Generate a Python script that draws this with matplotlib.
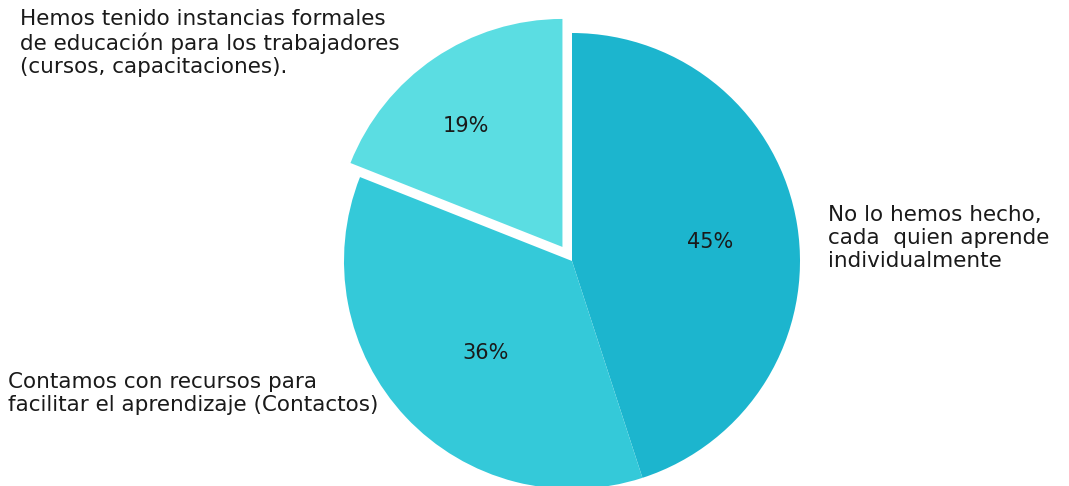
import numpy as np
import matplotlib.pyplot as plt

etiquetas = ['No lo hemos hecho,\ncada  quien aprende\nindividualmente',
             'Contamos con recursos para\nfacilitar el aprendizaje (Contactos)',
             'Hemos tenido instancias formales\nde educación para los trabajadores\n(cursos, capacitaciones).']
valores = [45, 36, 19]
colores = ['#1cb5ce', '#34c9d9', '#5bdde2']
separar = [0, 0, 17]  # en pixeles, pie no lo escala con el radio

fig = plt.figure(figsize=(10.69, 4.86), dpi=100)
ax = fig.add_axes([0, 0, 1, 1])
# ejes en pixeles, y hacia arriba
ax.set_xlim(0, 1069)
ax.set_ylim(0, 486)
ax.set_aspect('equal')
ax.axis('off')

centro = (572, 225)
radio = 228
cunas, textos, pcts = ax.pie(valores, colors=colores, explode=separar,
                             startangle=90, counterclock=False,
                             center=centro, radius=radio,
                             autopct='%1.0f%%', pctdistance=0.6,
                             textprops={'fontsize': 15, 'color': '#1a1a1a'},
                             wedgeprops={'linewidth': 0})
ax.set_xlim(0, 1069)
ax.set_ylim(0, 486)

# ubicacion de los porcentajes dentro de cada porcion
pos_pct = [(710, 486 - 242), (486, 486 - 353), (466, 486 - 126)]
for t, p in zip(pcts, pos_pct):
    t.set_position(p)

# etiquetas de texto al costado
pos_txt = [(828, 486 - 205), (8, 486 - 372), (20, 486 - 9)]
for txt, p in zip(etiquetas, pos_txt):
    ax.text(p[0], p[1], txt, fontsize=15.5, color='#1a1a1a',
            ha='left', va='top', linespacing=1.2)

plt.savefig('out.png', dpi=100)
